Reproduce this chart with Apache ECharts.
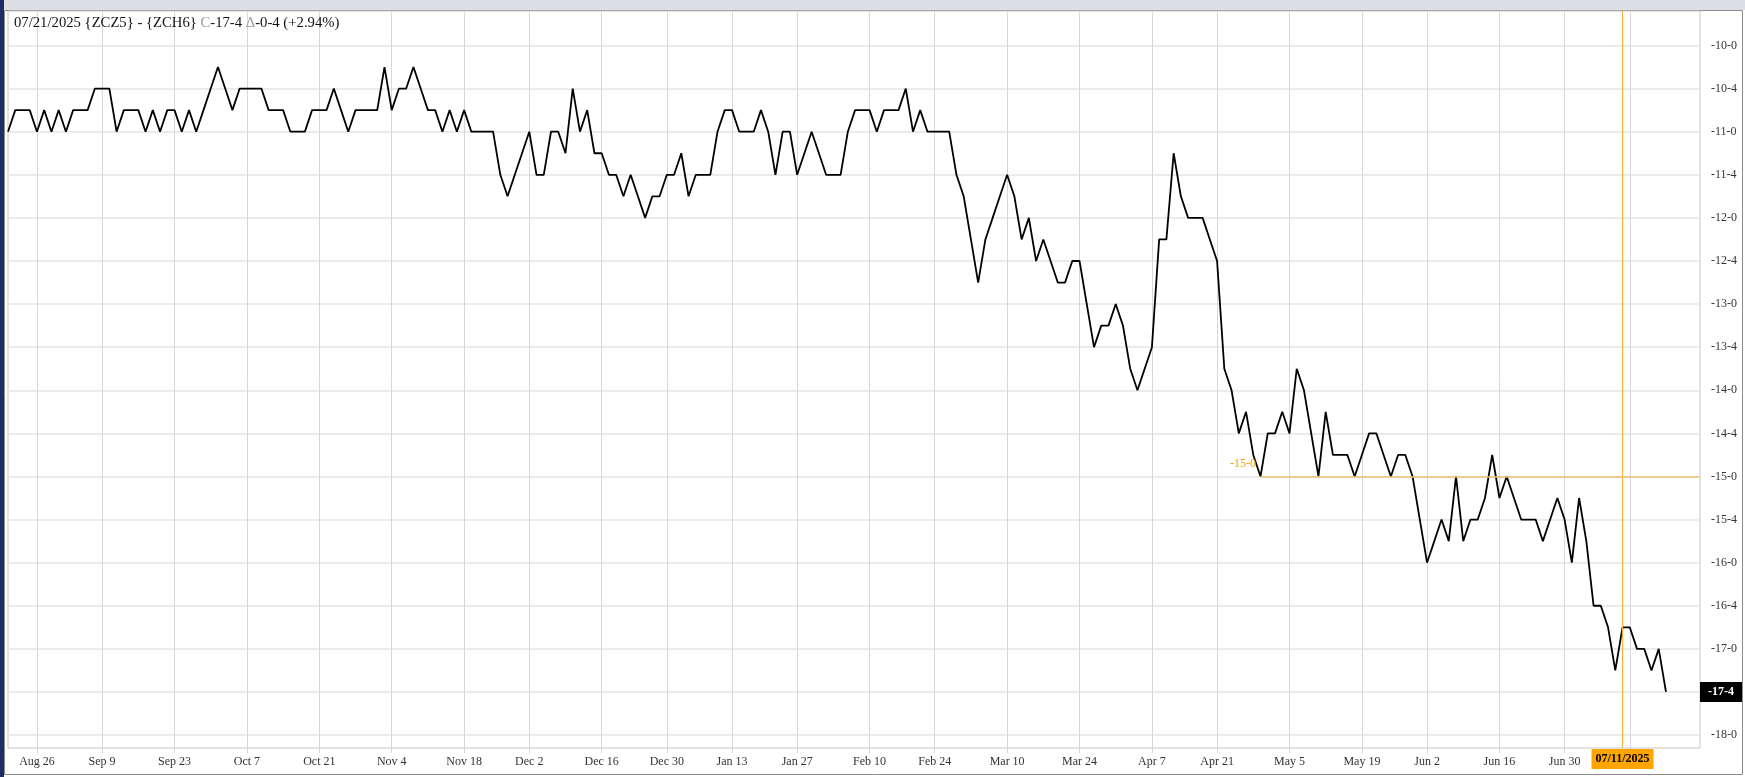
<!DOCTYPE html>
<html><head><meta charset="utf-8">
<script src="https://cdn.jsdelivr.net/npm/echarts@6/dist/echarts.min.js"></script>
<style>html,body{margin:0;padding:0;background:#fff;}#c{width:1745px;height:777px;}</style>
</head><body><div id="c"></div>
<script>
// ---- data ----
const startDate = '2024-08-20';
const endDate = '2025-07-21';
const holidays = ['2024-09-02','2024-11-28','2024-12-25','2025-01-01','2025-01-20','2025-02-17','2025-04-18','2025-05-26','2025-06-19','2025-07-04'];
const symbols = ['ZCZ5', 'ZCH6'];
const values = [
  -11, -10.75, -10.75, -10.75, -11, -10.75, -11, -10.75, -11, -10.75,
  -10.75, -10.75, -10.5, -10.5, -10.5, -11, -10.75, -10.75, -10.75, -11,
  -10.75, -11, -10.75, -10.75, -11, -10.75, -11, -10.75, -10.5, -10.25,
  -10.5, -10.75, -10.5, -10.5, -10.5, -10.5, -10.75, -10.75, -10.75, -11,
  -11, -11, -10.75, -10.75, -10.75, -10.5, -10.75, -11, -10.75, -10.75,
  -10.75, -10.75, -10.25, -10.75, -10.5, -10.5, -10.25, -10.5, -10.75, -10.75,
  -11, -10.75, -11, -10.75, -11, -11, -11, -11, -11.5, -11.75,
  -11.5, -11.25, -11, -11.5, -11.5, -11, -11, -11.25, -10.5, -11,
  -10.75, -11.25, -11.25, -11.5, -11.5, -11.75, -11.5, -11.75, -12, -11.75,
  -11.75, -11.5, -11.5, -11.25, -11.75, -11.5, -11.5, -11.5, -11, -10.75,
  -10.75, -11, -11, -11, -10.75, -11, -11.5, -11, -11, -11.5,
  -11.25, -11, -11.25, -11.5, -11.5, -11.5, -11, -10.75, -10.75, -10.75,
  -11, -10.75, -10.75, -10.75, -10.5, -11, -10.75, -11, -11, -11,
  -11, -11.5, -11.75, -12.25, -12.75, -12.25, -12, -11.75, -11.5, -11.75,
  -12.25, -12, -12.5, -12.25, -12.5, -12.75, -12.75, -12.5, -12.5, -13,
  -13.5, -13.25, -13.25, -13, -13.25, -13.75, -14, -13.75, -13.5, -12.25,
  -12.25, -11.25, -11.75, -12, -12, -12, -12.25, -12.5, -13.75, -14,
  -14.5, -14.25, -14.75, -15, -14.5, -14.5, -14.25, -14.5, -13.75, -14,
  -14.5, -15, -14.25, -14.75, -14.75, -14.75, -15, -14.75, -14.5, -14.5,
  -14.75, -15, -14.75, -14.75, -15, -15.5, -16, -15.75, -15.5, -15.75,
  -15, -15.75, -15.5, -15.5, -15.25, -14.75, -15.25, -15, -15.25, -15.5,
  -15.5, -15.5, -15.75, -15.5, -15.25, -15.5, -16, -15.25, -15.75, -16.5,
  -16.5, -16.75, -17.25, -16.75, -16.75, -17, -17, -17.25, -17, -17.5
];
const xLabelDates = ['2024-08-26','2024-09-09','2024-09-23','2024-10-07','2024-10-21','2024-11-04','2024-11-18','2024-12-02','2024-12-16','2024-12-30','2025-01-13','2025-01-27','2025-02-10','2025-02-24','2025-03-10','2025-03-24','2025-04-07','2025-04-21','2025-05-05','2025-05-19','2025-06-02','2025-06-16','2025-06-30'];
const xGridExtraDates = ['2025-07-14'];
const yTicks = [-18, -17.5, -17, -16.5, -16, -15.5, -15, -14.5, -14, -13.5, -13, -12.5, -12, -11.5, -11, -10.5, -10];
const crossDate = '2025-07-11';
const levelDate = '2025-04-29';
const levelValue = -15;

// ---- helpers ----
function tradingDays(s, e, hol) {
  const out = [];
  let d = new Date(s + 'T00:00:00Z');
  const end = new Date(e + 'T00:00:00Z');
  while (d <= end) {
    const w = d.getUTCDay();
    const iso = d.toISOString().slice(0, 10);
    if (w !== 0 && w !== 6 && hol.indexOf(iso) < 0) out.push(iso);
    d = new Date(d.getTime() + 86400000);
  }
  return out;
}
const MON = ['Jan','Feb','Mar','Apr','May','Jun','Jul','Aug','Sep','Oct','Nov','Dec'];
function fmtMD(iso) { if (!iso) return ''; const p = iso.split('-'); return MON[+p[1] - 1] + ' ' + (+p[2]); }
function fmtFull(iso) { const p = iso.split('-'); return p[1] + '/' + p[2] + '/' + p[0]; }
function fmtPrice(v) {
  const sign = v < 0 ? '-' : '';
  const a = Math.abs(v);
  const whole = Math.floor(a + 1e-9);
  const eighths = Math.round((a - whole) * 8);
  return sign + whole + '-' + eighths;
}

const dates = tradingDays(startDate, endDate, holidays);
const n = Math.min(dates.length, values.length);
const seriesData = [];
for (let i = 0; i < n; i++) seriesData.push([i, values[i]]);
const lastIdx = n - 1;
const last = values[lastIdx];
const prev = values[lastIdx - 1];
const change = last - prev;
const pct = change / prev * 100;
const xMax = lastIdx + 4.7;
const labelIdx = xLabelDates.map(d => dates.indexOf(d)).filter(i => i >= 0);
const gridIdx = labelIdx.concat(xGridExtraDates.map(d => dates.indexOf(d)).filter(i => i >= 0));
const crossIdx = dates.indexOf(crossDate);
const levelIdx = dates.indexOf(levelDate);
const yLabelTicks = yTicks.filter(v => v !== last);

const FF = '"Liberation Serif", "Times New Roman", serif';
const titleText = fmtFull(dates[lastIdx]) + ' {' + symbols[0] + '} - {' + symbols[1] + '} {g|C}' + fmtPrice(last) +
  ' {g|\u0394}' + fmtPrice(change) + ' (' + (pct >= 0 ? '+' : '') + pct.toFixed(2) + '%)';

const chart = echarts.init(document.getElementById('c'), null, { renderer: 'canvas' });
chart.setOption({
  animation: false,
  backgroundColor: '#ffffff',
  title: {
    text: titleText,
    left: 14, top: 15, padding: 0,
    textStyle: {
      fontFamily: FF, fontSize: 14.7, fontWeight: 'normal', color: '#111', lineHeight: 17,
      rich: { g: { fontFamily: FF, fontSize: 14.7, color: '#9a9a9a', lineHeight: 17 } }
    }
  },
  graphic: [
    { type: 'rect', z: -10, shape: { x: 0, y: 0, width: 1745, height: 10 }, style: { fill: '#dcdfe3' } },
    { type: 'rect', z: -10, shape: { x: 4.5, y: 10.5, width: 1738, height: 764 }, style: { fill: 'none', stroke: '#8c8c8c', lineWidth: 1 } },
    { type: 'rect', z: -10, shape: { x: 0, y: 0, width: 4, height: 777 }, style: { fill: '#1f2c66' } }
  ],
  grid: {
    left: 8, right: 45, top: 11, bottom: 29,
    show: true, borderColor: '#c6c6c6', borderWidth: 1, backgroundColor: 'transparent'
  },
  xAxis: {
    type: 'value', min: 0, max: xMax,
    axisLine: { show: false },
    axisTick: { show: true, length: 5, customValues: gridIdx, lineStyle: { color: '#d4d4d4' } },
    axisLabel: {
      customValues: labelIdx,
      formatter: v => fmtMD(dates[Math.round(v)]),
      color: '#333', fontFamily: FF, fontSize: 12, margin: 8
    },
    splitLine: { show: true, lineStyle: { color: '#d8d8d8', width: 1 } }
  },
  yAxis: {
    type: 'value', position: 'right', min: -18.15, max: -9.6,
    axisLine: { show: false },
    axisTick: { show: false, customValues: yTicks },
    axisLabel: {
      customValues: yLabelTicks,
      formatter: v => fmtPrice(v),
      color: '#333', fontFamily: FF, fontSize: 12, margin: 11, align: 'left'
    },
    splitLine: { show: true, lineStyle: { color: '#e4e4e4', width: 1.5 } }
  },
  series: [{
    type: 'line',
    data: seriesData,
    showSymbol: false,
    symbol: 'none',
    lineStyle: { color: '#000', width: 1.8 },
    z: 3,
    markLine: {
      silent: true,
      symbol: ['none', 'none'],
      animation: false,
      label: { show: false },
      data: [
        {
          xAxis: crossIdx,
          lineStyle: { color: '#f5b340', width: 1.2, type: 'solid' },
          label: {
            show: true, position: 'start', distance: 1,
            formatter: fmtFull(crossDate),
            backgroundColor: '#ffa500', color: '#000', fontWeight: 'bold',
            fontFamily: FF, fontSize: 12, padding: [4, 4, 4, 4]
          }
        },
        [
          { coord: [levelIdx, levelValue], lineStyle: { color: '#f2c170', width: 1.5, type: 'solid' }, label: { show: false } },
          { coord: [xMax, levelValue] }
        ],
        {
          yAxis: last,
          lineStyle: { color: 'rgba(0,0,0,0)', width: 0 },
          label: {
            show: true, position: 'end', distance: 0,
            formatter: fmtPrice(last),
            backgroundColor: '#000', color: '#fff', fontWeight: 'bold',
            fontFamily: FF, fontSize: 12, padding: [4, 8, 4, 8]
          }
        }
      ]
    },
    markPoint: {
      silent: true,
      animation: false,
      data: [{
        coord: [levelIdx, levelValue],
        symbol: 'circle', symbolSize: 1,
        itemStyle: { color: 'rgba(0,0,0,0)' },
        label: {
          show: true, position: 'left', distance: 4, offset: [0, -13],
          formatter: fmtPrice(levelValue),
          color: '#f5a000', fontFamily: FF, fontSize: 12
        }
      }]
    }
  }]
});
</script>
</body></html>
